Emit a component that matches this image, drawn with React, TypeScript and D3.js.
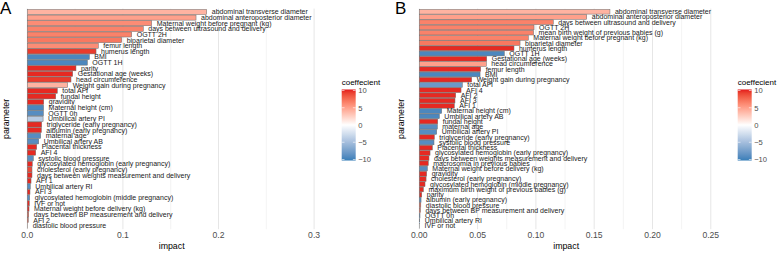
import React from "react";
import * as d3 from "d3";

const paramsA = [
  "abdominal transverse diameter",
  "abdominal anteroposterior diameter",
  "Maternal weight before pregnant (kg)",
  "days between ultrasound and delivery",
  "OGTT 2H",
  "biparietal diameter",
  "femur length",
  "humerus length",
  "BMI",
  "OGTT 1H",
  "parity",
  "Gestational age (weeks)",
  "head circumference",
  "Weight gain during pregnancy",
  "total AFI",
  "fundal height",
  "gravidity",
  "Maternal height (cm)",
  "OGTT 0h",
  "Umbilical artery PI",
  "triglyceride (early pregnancy)",
  "albumin (early pregnancy)",
  "maternal age",
  "Umbilical artery AB",
  "Placental thickness",
  "AFI 4",
  "systolic blood pressure",
  "glycosylated hemoglobin (early pregnancy)",
  "cholesterol (early pregnancy)",
  "days between weights measurement and delivery",
  "AFI 1",
  "Umbilical artery RI",
  "AFI 3",
  "glycosylated hemoglobin (middle pregnancy)",
  "IVF or not",
  "Maternal weight before delivery (kg)",
  "days between BP measurement and delivery",
  "AFI 2",
  "diastolic blood pressure",
];
const impactA = [
  0.1877, 0.1765, 0.1301, 0.1213, 0.1092, 0.0987, 0.0743, 0.0719, 0.0649, 0.0628,
  0.0509, 0.0475, 0.0457, 0.0422, 0.0314, 0.0297, 0.0172, 0.0170, 0.0168, 0.0165,
  0.0150, 0.0147, 0.0140, 0.0119, 0.0098, 0.0088, 0.0063, 0.0052, 0.0049, 0.0049,
  0.0039, 0.0031, 0.0028, 0.0025, 0.0021, 0.0018, 0.0015, 0.0010, 0.0004,
];
const coefA = [
  4, 5, 6, 6.5, 6.5, 7, 6, 9.5, -9.5, -9.5,
  10, 10, 9.5, 4, 10, 10, 10, -9.5, -9, -4,
  10, 10, -9, -9, 10, 10, -9, 10, 9, 10,
  10, -9, 10, -9, 10, 10, 8, 8, 2,
];

const paramsB = [
  "abdominal transverse diameter",
  "abdominal anteroposterior diameter",
  "days between ultrasound and delivery",
  "OGTT 2H",
  "mean birth weight of previous babies (g)",
  "Maternal weight before pregnant (kg)",
  "biparietal diameter",
  "humerus length",
  "OGTT 1H",
  "Gestational age (weeks)",
  "head circumference",
  "femur length",
  "BMI",
  "Weight gain during pregnancy",
  "total AFI",
  "AFI 4",
  "AFI 2",
  "AFI 3",
  "AFI 1",
  "Maternal height (cm)",
  "Umbilical artery AB",
  "fundal height",
  "maternal age",
  "Umbilical artery PI",
  "triglyceride (early pregnancy)",
  "systolic blood pressure",
  "Placental thickness",
  "glycosylated hemoglobin (early pregnancy)",
  "days between weights measurement and delivery",
  "macrosomia in previous babies",
  "Maternal weight before delivery (kg)",
  "gravidity",
  "cholesterol (early pregnancy)",
  "glycosylated hemoglobin (middle pregnancy)",
  "maximum birth weight of previous babies (g)",
  "parity",
  "albumin (early pregnancy)",
  "diastolic blood pressure",
  "days between BP measurement and delivery",
  "OGTT 0h",
  "Umbilical artery RI",
  "IVF or not",
];
const impactB = [
  0.1635, 0.1436, 0.1149, 0.0984, 0.0980, 0.0935, 0.0864, 0.0812, 0.0729, 0.0578,
  0.0575, 0.0526, 0.0521, 0.0449, 0.0369, 0.0358, 0.0312, 0.0306, 0.0300, 0.0192,
  0.0172, 0.0158, 0.0155, 0.0149, 0.0129, 0.0126, 0.0112, 0.0092, 0.0083, 0.0077,
  0.0069, 0.0063, 0.0058, 0.0049, 0.0035, 0.0021, 0.0015, 0.0013, 0.0010, 0.0006,
  0.0004, 0.0002,
];
const coefB = [
  4, 5, 6.5, 6.5, 6.5, 6.5, 7, 10, -9.5, 10,
  5, 10, -9.5, 10, -8, 10, 10, 10, 10, -9.5,
  -9.5, 10, -9, -9, 10, -9, 10, 10, 10, 10,
  -9, 10, 10, 10, 10, 10, -9, 8, 8, -9,
  -8, 0,
];

const ticksA = [0, 0.1, 0.2, 0.3];
const minorA = [0.05, 0.15, 0.25];
const ticksB = [0, 0.05, 0.1, 0.15, 0.2, 0.25];
const minorB = [0.025, 0.075, 0.125, 0.175, 0.225];
const legendTicks = [10, 5, 0, -5, -10];

const FONT = "'Liberation Sans', Arial, Helvetica, sans-serif";

const fillScale = (v: number) => {
  const t = Math.max(-10.3, Math.min(10.3, v));
  if (t >= 0) return d3.interpolateLab("#ffffff", "#e41a1c")(t / 10.3);
  return d3.interpolateLab("#ffffff", "#377eb8")(-t / 10.3);
};

type PanelProps = {
  letter: string;
  params: string[];
  impact: number[];
  coef: number[];
  ticks: number[];
  minor: number[];
  fmt: string;
  x0: number;
  pxPerUnit: number;
  panelRight: number;
  legendX: number;
  letterX: number;
};

const TOP = 8.6;
const BOTTOM = 229.2;

function Panel(p: PanelProps) {
  const x = d3.scaleLinear().domain([0, 1]).range([p.x0, p.x0 + p.pxPerUnit]);
  const y = d3.scalePoint<string>().domain(p.params).range([TOP, BOTTOM]).padding(0.6);
  const step = y.step();
  const barH = step * 0.9;
  const f = d3.format(p.fmt);
  const legY = d3.scaleLinear().domain([-10, 10]).range([159.5, 90.5]);
  const gradId = "grad" + p.letter;
  const stops = d3.range(0, 21).map((i) => -10.3 + (20.6 * i) / 20);
  return (
    <g>
      <text x={p.letterX} y={14} fontSize={17} fontFamily={FONT} fill="#000">
        {p.letter}
      </text>
      {p.minor.map((t) => (
        <line key={"mi" + t} x1={x(t)} x2={x(t)} y1={TOP} y2={BOTTOM} stroke="#ebebeb" strokeWidth={0.6} />
      ))}
      {p.ticks.map((t) => (
        <line key={"ma" + t} x1={x(t)} x2={x(t)} y1={TOP} y2={BOTTOM} stroke="#e6e6e6" strokeWidth={1} />
      ))}
      {p.params.map((name, i) => (
        <rect
          key={"b" + i}
          x={x(0)}
          y={(y(name) as number) - barH / 2}
          width={Math.max(0.3, x(p.impact[i]) - x(0))}
          height={barH}
          fill={fillScale(p.coef[i])}
          stroke="#6b6b6b"
          strokeWidth={0.5}
        />
      ))}
      {p.params.map((name, i) => (
        <text
          key={"l" + i}
          x={x(p.impact[i]) + 5}
          y={(y(name) as number) + 2.4}
          fontSize={7}
          fontFamily={FONT}
          fill="#1a1a1a"
        >
          {name}
        </text>
      ))}
      {p.ticks.map((t) => (
        <text key={"t" + t} x={x(t)} y={238} fontSize={8.6} fontFamily={FONT} fill="#4d4d4d" textAnchor="middle">
          {f(t)}
        </text>
      ))}
      <text
        x={(p.x0 - 14 + p.panelRight) / 2}
        y={249}
        fontSize={8.8}
        fontFamily={FONT}
        fill="#000"
        textAnchor="middle"
      >
        impact
      </text>
      <text
        transform={`translate(${p.letterX + 8.5},${(TOP + BOTTOM) / 2}) rotate(-90)`}
        fontSize={8.8}
        fontFamily={FONT}
        fill="#000"
        textAnchor="middle"
      >
        parameter
      </text>
      <defs>
        <linearGradient id={gradId} x1="0" y1="1" x2="0" y2="0">
          {stops.map((s, i) => (
            <stop key={i} offset={`${(i / 20) * 100}%`} stopColor={fillScale(s)} />
          ))}
        </linearGradient>
      </defs>
      <text x={p.legendX} y={85} fontSize={8} fontFamily={FONT} fill="#000">
        coeffecient
      </text>
      <rect x={p.legendX} y={legY(10.3)} width={14} height={legY(-10.3) - legY(10.3)} fill={`url(#${gradId})`} />
      {legendTicks.map((t) => (
        <g key={"lg" + t}>
          <line x1={p.legendX} x2={p.legendX + 2.8} y1={legY(t)} y2={legY(t)} stroke="#fff" strokeWidth={0.6} />
          <line x1={p.legendX + 11.2} x2={p.legendX + 14} y1={legY(t)} y2={legY(t)} stroke="#fff" strokeWidth={0.6} />
          <text x={p.legendX + 16.5} y={legY(t) + 2.8} fontSize={7.6} fontFamily={FONT} fill="#4d4d4d">
            {t < 0 ? "\u2212" + Math.abs(t) : String(t)}
          </text>
        </g>
      ))}
    </g>
  );
}

export default function App() {
  return (
    <svg
      width={777}
      height={254}
      style={{ position: "absolute", left: 0, top: 0, background: "#fff" }}
    >
      <rect x={0} y={0} width={777} height={254} fill="#fff" />
      <Panel
        letter="A"
        params={paramsA}
        impact={impactA}
        coef={coefA}
        ticks={ticksA}
        minor={minorA}
        fmt=".1f"
        x0={27.3}
        pxPerUnit={956}
        panelRight={330}
        legendX={341.7}
        letterX={0}
      />
      <Panel
        letter="B"
        params={paramsB}
        impact={impactB}
        coef={coefB}
        ticks={ticksB}
        minor={minorB}
        fmt=".2f"
        x0={419.3}
        pxPerUnit={1166}
        panelRight={727}
        legendX={737.7}
        letterX={395}
      />
    </svg>
  );
}
